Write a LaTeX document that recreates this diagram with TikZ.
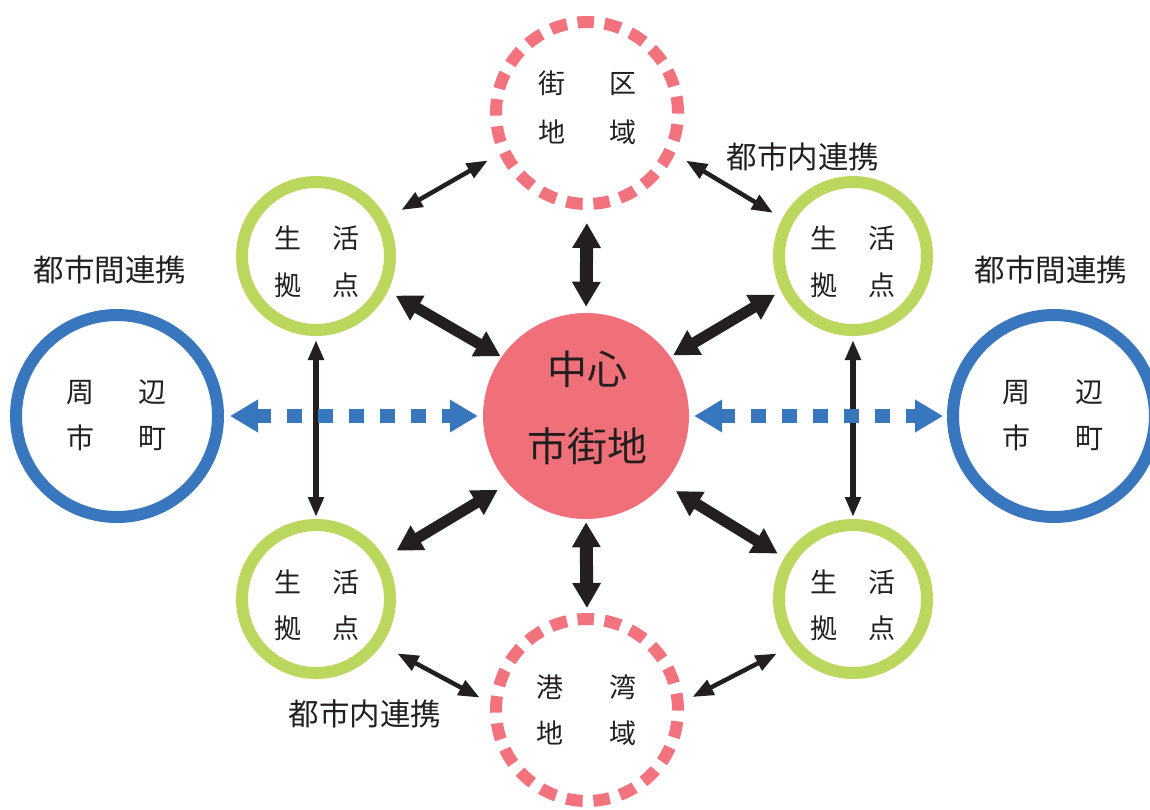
\documentclass[tikz,border=0pt]{standalone}
\usepackage{fontspec}
\newfontfamily\jp{Noto Sans CJK JP}
\usetikzlibrary{arrows.meta}
\definecolor{pinkc}{HTML}{F07079}
\definecolor{pinkd}{HTML}{F2737D}
\definecolor{greenc}{HTML}{BCD75E}
\definecolor{bluec}{HTML}{3876BD}
\definecolor{ink}{HTML}{231F20}
\begin{document}
\begin{tikzpicture}[x=1pt,y=-1pt,
  greenring/.style={circle, draw=greenc, line width=12pt, minimum size=148pt, inner sep=0pt},
  bluering/.style={circle, draw=bluec, line width=12pt, minimum size=202pt, inner sep=0pt},
  dashring/.style={circle, draw=pinkd, line width=12pt, minimum size=182pt, inner sep=0pt, dash pattern=on 16.5pt off 10.7pt},
  core/.style={circle, fill=pinkc, minimum size=206pt, inner sep=0pt},
  ringtxt/.style={text=ink, font=\jp\fontsize{27}{47}\selectfont, align=center, inner sep=0pt},
  coretxt/.style={text=ink, font=\jp\fontsize{40}{77}\selectfont, align=center, inner sep=0pt},
  lbl/.style={text=ink, font=\jp\fontsize{30.5}{34}\selectfont, inner sep=0pt},
  thickarr/.style={draw=ink, line width=11pt, arrows={Triangle[width=27pt,length=25pt]-Triangle[width=27pt,length=25pt]}},
  thickv/.style={draw=ink, line width=13pt, arrows={Triangle[width=27pt,length=25pt]-Triangle[width=27pt,length=25pt]}},
  thinarr/.style={draw=ink, line width=4.5pt, arrows={Triangle[width=16pt,length=21pt]-Triangle[width=16pt,length=21pt]}},
  thinv/.style={draw=ink, line width=5.5pt, arrows={Triangle[width=15pt,length=20pt]-Triangle[width=15pt,length=20pt]}},
  bluearr/.style={draw=bluec, line width=14pt, dash pattern=on 15pt off 16pt, arrows={Triangle[width=31pt,length=28pt]-Triangle[width=31pt,length=28pt]}}
]
\useasboundingbox (0,0) rectangle (1150,809);

% circles
\node[core] (c) at (586,416) {};
\node[dashring] (d1) at (587,113) {};
\node[dashring] (d2) at (587,710) {};
\node[greenring] (g1) at (316,256) {};
\node[greenring] (g2) at (853,256) {};
\node[greenring] (g3) at (316,599) {};
\node[greenring] (g4) at (853,599) {};
\node[bluering] (b1) at (117,416) {};
\node[bluering] (b2) at (1054,416) {};

% texts
\node[coretxt] (ct) at (587,408) {中心\\市街地};
\node[ringtxt, font=\jp\fontsize{27}{49}\selectfont] (d1t) at (587.5,107.5) {街\hspace{44pt}区\\地\hspace{44pt}域};
\node[ringtxt, font=\jp\fontsize{27}{46}\selectfont] (d2t) at (586.5,710) {港\hspace{46pt}湾\\地\hspace{46pt}域};
\node[ringtxt] (g1t) at (317,261.5) {生\hspace{31pt}活\\拠\hspace{31pt}点};
\node[ringtxt] (g2t) at (853,262) {生\hspace{31pt}活\\拠\hspace{31pt}点};
\node[ringtxt, font=\jp\fontsize{27}{46}\selectfont] (g3t) at (317,605) {生\hspace{31pt}活\\拠\hspace{31pt}点};
\node[ringtxt, font=\jp\fontsize{27}{46}\selectfont] (g4t) at (853,605.5) {生\hspace{31pt}活\\拠\hspace{31pt}点};
\node[ringtxt, font=\jp\fontsize{28}{46}\selectfont] (b1t) at (116.5,415) {周\hspace{45pt}辺\\市\hspace{45pt}町};
\node[ringtxt, font=\jp\fontsize{28}{46}\selectfont] (b2t) at (1053,415) {周\hspace{45pt}辺\\市\hspace{45pt}町};

% labels
\node[lbl] (l1) at (803,157) {都市内連携};
\node[lbl] (l2) at (365,714) {都市内連携};
\node[lbl] (l3) at (110,270) {都市間連携};
\node[lbl] (l4) at (1051,270) {都市間連携};

% connectors
\draw[thinarr, shorten <=17pt, shorten >=13pt] (g1.28) -- (d1.205);
\draw[thinarr, shorten <=13pt, shorten >=11pt] (d1.-25) -- (g2.152);
\draw[thickarr, shorten <=9pt, shorten >=1pt] (g1.-26) -- (c.145);
\draw[thickarr, shorten <=3pt, shorten >=7pt] (c.35) -- (g2.206);
\draw[thickv, shorten <=6pt, shorten >=13pt] (c.90) -- (d1.-90);
\draw[thinv, shorten <=4pt, shorten >=2pt] (g1.-90) -- (g3.90);
\draw[thinv, shorten <=4pt, shorten >=2pt] (g2.-90) -- (g4.90);
\draw[thickarr, shorten <=14pt, shorten >=12pt] (g3.31) -- (c.221.5);
\draw[thickarr, shorten <=14pt, shorten >=8pt] (c.-41.5) -- (g4.149);
\draw[thickv, shorten <=3pt, shorten >=5pt] (c.-90) -- (d2.90);
\draw[thinarr, shorten <=18pt, shorten >=12pt] (g3.-35) -- (d2.176);
\draw[thinarr, shorten <=10pt, shorten >=14pt] (d2.5) -- (g4.-143);
\draw[bluearr, shorten <=6pt, shorten >=5pt] (b1) -- (c);
\draw[bluearr, shorten <=5pt, shorten >=4pt] (c) -- (b2);
\end{tikzpicture}
\end{document}
